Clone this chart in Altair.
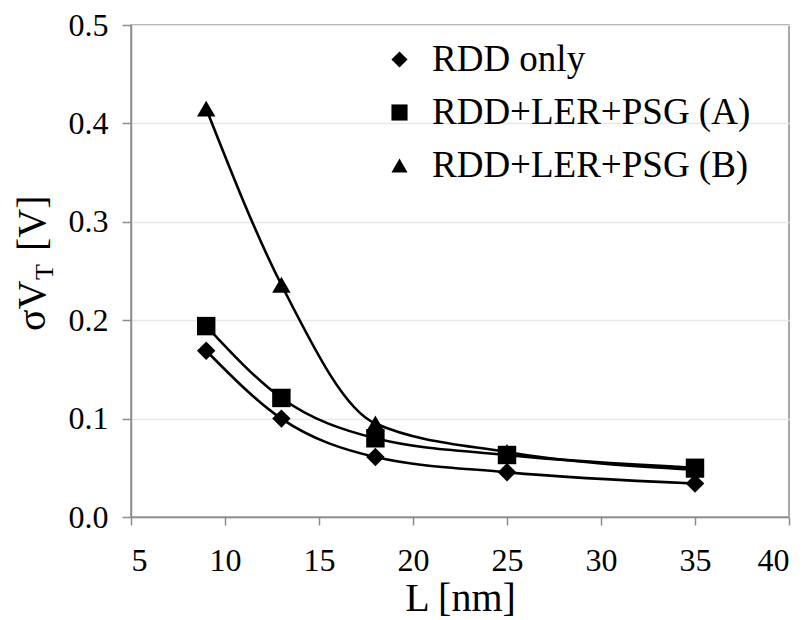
import altair as alt
import pandas as pd

# ---- data ----
L_nm = [9, 13, 18, 25, 35]
series_names = ["RDD only", "RDD+LER+PSG (A)", "RDD+LER+PSG (B)"]
rdd_only = [0.169, 0.100, 0.061, 0.0455, 0.034]
rdd_ler_psg_a = [0.194, 0.121, 0.080, 0.063, 0.050]
rdd_ler_psg_b = [0.415, 0.236, 0.095, 0.066, 0.048]

x_ticks = [5, 10, 15, 20, 25, 30, 35, 40]
y_ticks = [0.0, 0.1, 0.2, 0.3, 0.4, 0.5]

rows = []
for name, vals in zip(series_names, [rdd_only, rdd_ler_psg_a, rdd_ler_psg_b]):
    for x, y in zip(L_nm, vals):
        rows.append({"L": x, "sigma": y, "series": name})
df = pd.DataFrame(rows)

SERIF = "'Liberation Serif', 'Times New Roman', Times, 'DejaVu Serif', serif"
GRAY = "#8c8c8c"

x_enc = alt.X(
    "L:Q",
    scale=alt.Scale(domain=[5, 40], nice=False, zero=False),
    axis=alt.Axis(
        values=x_ticks, title="L [nm]", grid=False, tickSize=8, labelPadding=20,
        labelFont=SERIF, labelFontSize=32, labelColor="black",
        titleFont=SERIF, titleFontSize=40, titleFontWeight="normal", titleColor="black",
        titleBaseline="alphabetic", titleY=93,
        domainColor=GRAY, tickColor=GRAY, domainWidth=1.5, tickWidth=1.5,
    ),
)
y_enc = alt.Y(
    "sigma:Q",
    scale=alt.Scale(domain=[0, 0.5], nice=False),
    axis=alt.Axis(
        values=y_ticks, format=".1f", title=None, grid=True, gridColor="#e8e8e8",
        gridWidth=1.5, tickSize=9, labelPadding=14,
        labelFont=SERIF, labelFontSize=32, labelColor="black",
        domainColor=GRAY, tickColor=GRAY, domainWidth=1.5, tickWidth=1.5,
    ),
)

base = alt.Chart(df)

lines = base.mark_line(interpolate="monotone", color="black", strokeWidth=2.6).encode(
    x=x_enc, y=y_enc, detail="series:N"
)

points = base.mark_point(filled=True, color="black", opacity=1, size=340).encode(
    x="L:Q",
    y="sigma:Q",
    shape=alt.Shape(
        "series:N",
        scale=alt.Scale(domain=series_names, range=["diamond", "square", "triangle-up"]),
        legend=alt.Legend(
            title=None, orient="none", legendX=250, legendY=16,
            labelFont=SERIF, labelFontSize=37, labelColor="black", labelLimit=600,
            symbolSize=260, symbolFillColor="black", symbolStrokeColor="black",
            labelOffset=14, rowPadding=15, padding=0,
        ),
    ),
)

def title_piece(text, x, y, size):
    return alt.Chart(pd.DataFrame({"t": [text]})).mark_text(
        angle=270, align="left", baseline="alphabetic", font=SERIF,
        fontSize=size, color="black",
    ).encode(x=alt.value(x), y=alt.value(y), text="t:N")

ytitle = (
    title_piece("σV", -86, 306, 40)
    + title_piece("T", -78, 255, 26)
    + title_piece("[V]", -86, 226, 40)
)

chart = (
    alt.layer(lines, points, ytitle)
    .properties(
        width=658, height=492,
        autosize=alt.AutoSizeParams(type="none"),
        padding={"left": 131, "top": 25, "right": 18, "bottom": 103},
        background="white",
    )
    .configure(font=SERIF)
    .configure_axis(labelFont=SERIF, titleFont=SERIF)
    .configure_legend(labelFont=SERIF)
    .configure_text(font=SERIF)
    .configure_view(stroke=GRAY, strokeWidth=1.5)
)

chart.save("out.html", embed_options={"renderer": "svg", "actions": False})
